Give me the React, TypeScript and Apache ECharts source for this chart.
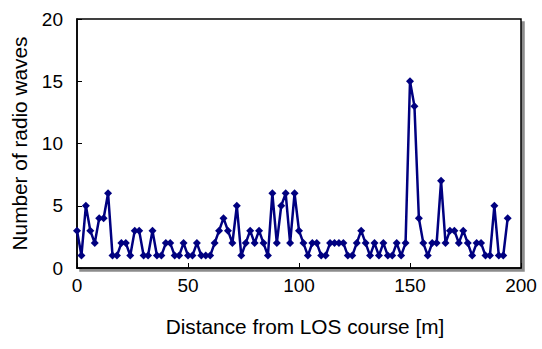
import React, { useEffect, useRef } from "react";
import * as echarts from "echarts";

const distances: number[] = [
  0, 2, 4, 6, 8, 10, 12, 14, 16, 18, 20, 22, 24, 26, 28, 30, 32, 34, 36, 38,
  40, 42, 44, 46, 48, 50, 52, 54, 56, 58, 60, 62, 64, 66, 68, 70, 72, 74, 76, 78,
  80, 82, 84, 86, 88, 90, 92, 94, 96, 98, 100, 102, 104, 106, 108, 110, 112, 114, 116, 118,
  120, 122, 124, 126, 128, 130, 132, 134, 136, 138, 140, 142, 144, 146, 148, 150, 152, 154, 156, 158,
  160, 162, 164, 166, 168, 170, 172, 174, 176, 178, 180, 182, 184, 186, 188, 190, 192, 194,
];

const waveCounts: number[] = [
  3, 1, 5, 3, 2, 4, 4, 6, 1, 1, 2, 2, 1, 3, 3, 1, 1, 3, 1, 1,
  2, 2, 1, 1, 2, 1, 1, 2, 1, 1, 1, 2, 3, 4, 3, 2, 5, 1, 2, 3,
  2, 3, 2, 1, 6, 2, 5, 6, 2, 6, 3, 2, 1, 2, 2, 1, 1, 2, 2, 2,
  2, 1, 1, 2, 3, 2, 1, 2, 1, 2, 1, 1, 2, 1, 2, 15, 13, 4, 2, 1,
  2, 2, 7, 2, 3, 3, 2, 3, 2, 1, 2, 2, 1, 1, 5, 1, 1, 4,
];

const xTicks = { min: 0, max: 200, interval: 50 };
const yTicks = { min: 0, max: 20, interval: 5 };

const xTitle = "Distance from LOS course [m]";
const yTitle = "Number of radio waves";

export default function App() {
  const ref = useRef<HTMLDivElement>(null);
  useEffect(() => {
    if (!ref.current) return;
    const chart = echarts.init(ref.current, null, { renderer: "svg" });
    const font = "'Liberation Sans', Arial, sans-serif";
    const fs = 19;
    const tfs = 20.8;
    chart.setOption({
      animation: false,
      backgroundColor: "#ffffff",
      grid: {
        left: 77,
        right: 21,
        top: 19,
        bottom: 81,
        show: true,
        backgroundColor: "#ffffff",
        borderColor: "#000000",
        borderWidth: 1.5,
        shadowColor: "rgba(0,0,0,0.45)",
        shadowBlur: 0,
        shadowOffsetX: 3,
        shadowOffsetY: 3,
      },
      xAxis: {
        type: "value",
        min: xTicks.min,
        max: xTicks.max,
        interval: xTicks.interval,
        name: xTitle,
        nameLocation: "middle",
        nameGap: 48,
        nameTextStyle: { fontFamily: font, fontSize: tfs, color: "#000", padding: [0, 0, 0, 12] },
        axisLine: { show: true, onZero: false, lineStyle: { color: "#000", width: 1.5 } },
        axisTick: { show: true, inside: true, length: 5, lineStyle: { color: "#000" } },
        axisLabel: { margin: 8, fontFamily: font, fontSize: fs, color: "#000" },
        splitLine: { show: false },
      },
      yAxis: {
        type: "value",
        min: yTicks.min,
        max: yTicks.max,
        interval: yTicks.interval,
        name: yTitle,
        nameLocation: "middle",
        nameGap: 47,
        nameRotate: 90,
        nameTextStyle: { fontFamily: font, fontSize: tfs, color: "#000" },
        axisLine: { show: true, lineStyle: { color: "#000", width: 1.5 } },
        axisTick: { show: true, inside: true, length: 5, lineStyle: { color: "#000" } },
        axisLabel: { margin: 14, fontFamily: font, fontSize: fs, color: "#000" },
        splitLine: { show: false },
      },
      series: [
        {
          type: "line",
          data: distances.map((d, i) => [d, waveCounts[i]]),
          symbol: "diamond",
          symbolSize: 8,
          showSymbol: true,
          lineStyle: { color: "#000080", width: 2.5 },
          itemStyle: { color: "#000080" },
        },
      ],
    });
    return () => chart.dispose();
  }, []);
  return <div ref={ref} style={{ width: 542, height: 349, position: "absolute", left: 0, top: 0 }} />;
}
